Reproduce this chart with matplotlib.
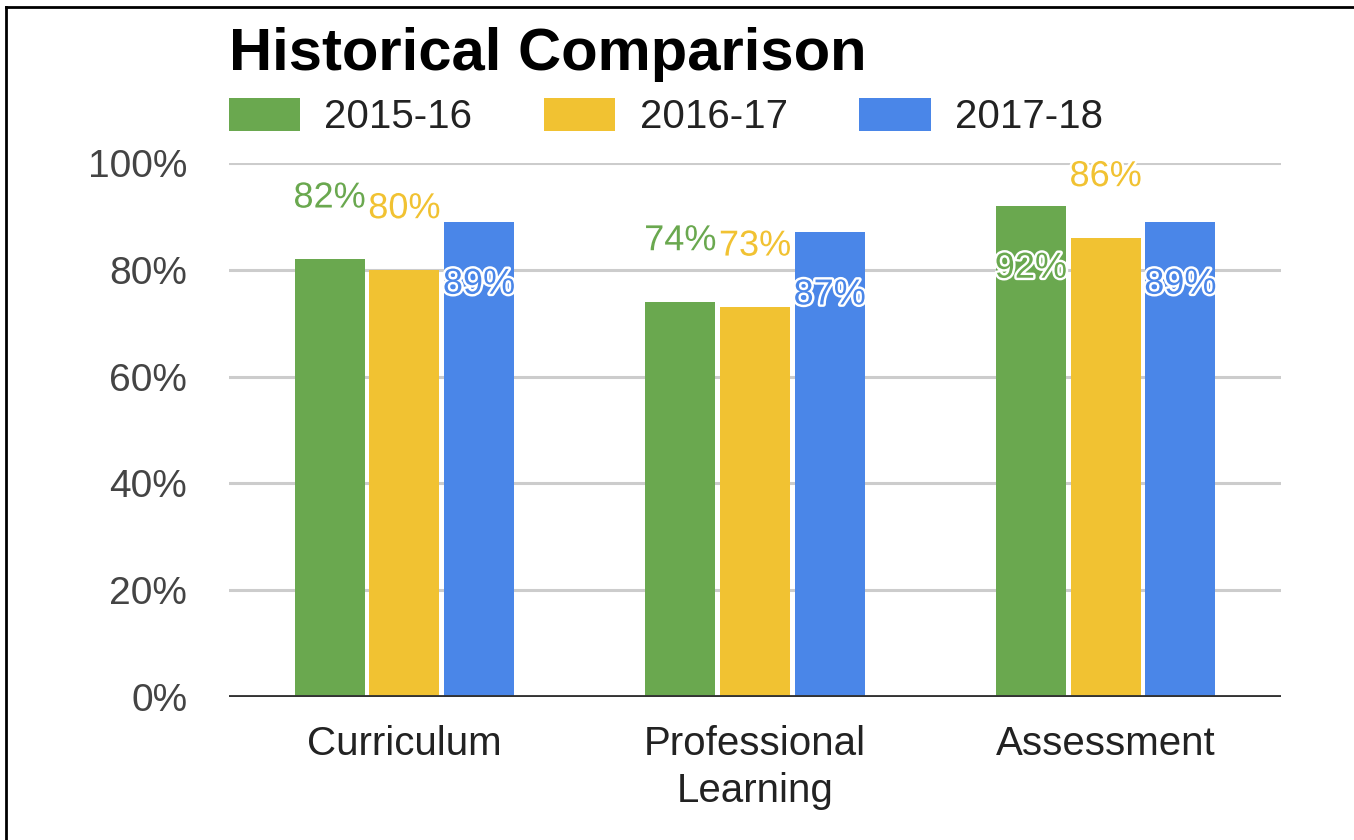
import matplotlib
matplotlib.use('Agg')
import matplotlib.pyplot as plt
import matplotlib.patheffects as pe
import numpy as np

# Dati del grafico
categories = ['Curriculum', 'Professional\nLearning', 'Assessment']
series_names = ['2015-16', '2016-17', '2017-18']
values_2015 = [82, 74, 92]
values_2016 = [80, 73, 86]
values_2017 = [89, 87, 89]
# posizione etichetta: 'above' sopra la barra, 'inside' dentro la barra
label_pos_2015 = ['above', 'above', 'inside']
label_pos_2016 = ['above', 'above', 'above']
label_pos_2017 = ['inside', 'inside', 'inside']
y_ticks = [0, 20, 40, 60, 80, 100]

colors = ['#6AA84F', '#F1C232', '#4A86E8']
plt.rcParams['font.family'] = ['Liberation Sans', 'DejaVu Sans']

W, H = 1354, 840
fig = plt.figure(figsize=(W / 100, H / 100), dpi=100)
ax = fig.add_axes([229 / W, 1 - 697 / H, (1281 - 229) / W, (697 - 163) / H])

x = np.arange(len(categories))
width = 0.2
step = 0.213
all_values = [values_2015, values_2016, values_2017]
all_pos = [label_pos_2015, label_pos_2016, label_pos_2017]

for i, (vals, pos) in enumerate(zip(all_values, all_pos)):
    xs = x + (i - 1) * step
    ax.bar(xs, vals, width, color=colors[i], label=series_names[i], zorder=2)
    for xi, v, p in zip(xs, vals, pos):
        off = 44 if p == 'above' else -45
        ax.annotate(f"{v}%", (xi, v), xytext=(0, off), textcoords='offset points',
                    ha='center', va='center', fontsize=26, color=colors[i], zorder=5,
                    path_effects=[pe.withStroke(linewidth=3.5, foreground='white')])

# Personalizzazioni assi
ax.set_xlim(-0.5, len(categories) - 0.5)
ax.set_ylim(0, 100)
ax.set_yticks(y_ticks)
ax.set_yticklabels([f"{t}%" for t in y_ticks], fontsize=28, color='#444444')
ax.set_xticks(x)
ax.set_xticklabels(categories, fontsize=29, color='#222222', linespacing=1.3)
ax.tick_params(axis='both', length=0)
ax.tick_params(axis='y', pad=30)
ax.tick_params(axis='x', pad=20)
for s in ax.spines.values():
    s.set_visible(False)
ax.yaxis.grid(True, color='#cccccc', linewidth=2.2, zorder=0)
ax.set_axisbelow(True)
ax.axhline(0, color='#333333', linewidth=3.5, zorder=3)

# Titolo e legenda
fig.text(229 / W, 1 - 70 / H, 'Historical Comparison', fontsize=43, fontweight='bold',
         ha='left', va='baseline', color='black')
ax.legend(loc='center left', bbox_to_anchor=(229 / W, 1 - 117 / H), bbox_transform=fig.transFigure,
          ncol=3, frameon=False, fontsize=29, handlelength=1.77, handleheight=0.9,
          handletextpad=0.6, columnspacing=1.78, borderpad=0, borderaxespad=0,
          labelcolor='#222222')

# Bordo superiore e sinistro
fig.add_artist(plt.Line2D([6 / W, 6 / W], [0, 1 - 7 / H], color='black', linewidth=2, transform=fig.transFigure))
fig.add_artist(plt.Line2D([6 / W, 1], [1 - 7 / H, 1 - 7 / H], color='black', linewidth=2, transform=fig.transFigure))

plt.savefig('out.png', dpi=100)
plt.close()
